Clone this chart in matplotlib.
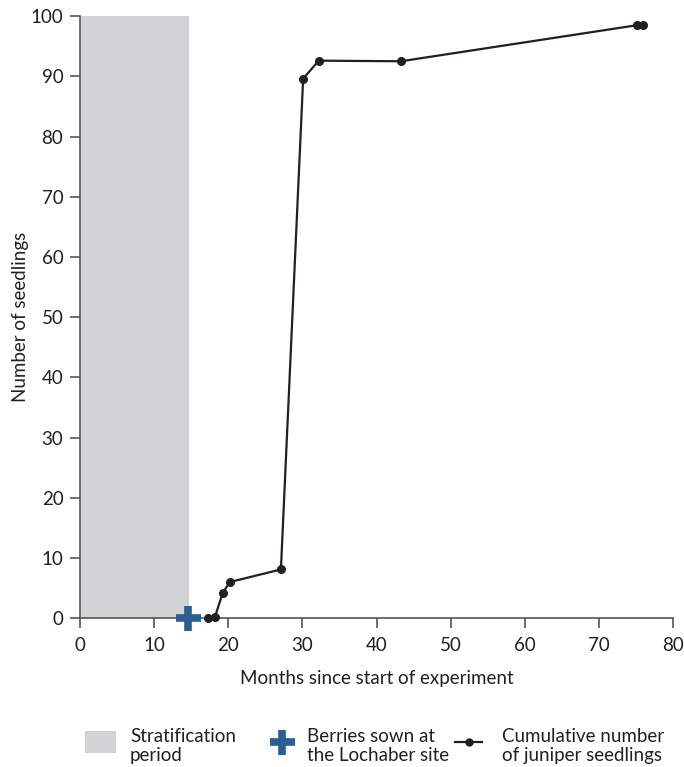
import matplotlib.pyplot as plt
from matplotlib.patches import Rectangle

plt.rcParams['font.family'] = ['Lato', 'DejaVu Sans']

# data
months = [17.2, 18.2, 19.25, 20.2, 27.1, 30.1, 32.2, 43.3, 75.2, 76.0]
seedlings = [0, 0.2, 4.2, 6.0, 8.1, 89.6, 92.6, 92.5, 98.5, 98.5]
strat_start, strat_end = 0, 14.7
sown_month = 14.6

legend_labels = ['Stratification\nperiod', 'Berries sown at\nthe Lochaber site',
                 'Cumulative number\nof juniper seedlings']

grey = '#d1d3d4'
blue = '#2b5f91'
dark = '#231f20'
axis_col = '#555555'
txt = '#231f20'
fs = 13.5

fig = plt.figure(figsize=(6.84, 7.67), dpi=100)
ax = fig.add_axes([0.117, 0.194, 0.867, 0.785])

ax.axvspan(strat_start, strat_end, color=grey, lw=0, zorder=1)
ax.plot(months, seedlings, color=dark, lw=1.6, marker='o', ms=5.5, zorder=3,
        clip_on=False)
ax.plot([sown_month], [0], marker='+', ms=18, mew=5.5, color=blue, zorder=4,
        clip_on=False)

ax.set_xlim(0, 80)
ax.set_ylim(0, 100)
ax.set_xticks(range(0, 81, 10))
ax.set_yticks(range(0, 101, 10))
for s in ['top', 'right']:
    ax.spines[s].set_visible(False)
for s in ['left', 'bottom']:
    ax.spines[s].set_color(axis_col)
    ax.spines[s].set_linewidth(1.2)
ax.tick_params(colors=axis_col, labelcolor=txt, labelsize=fs,
               length=7, width=1.2, direction='out')
ax.tick_params(axis='x', pad=6.5)
ax.tick_params(axis='y', pad=5)
ax.set_xlabel('Months since start of experiment', fontsize=fs, color=txt,
              labelpad=11.5)
ax.set_ylabel('Number of seedlings', fontsize=fs, color=txt, labelpad=1)

# legend drawn by hand in figure pixel coordinates
lax = fig.add_axes([0, 0, 1, 0.12])
lax.set_xlim(0, 684)
lax.set_ylim(767, 767 - 0.12 * 767)
lax.axis('off')
ly = 742
lax.add_patch(Rectangle((85, 731), 31, 22, facecolor=grey, edgecolor='none'))
lax.plot([282], [ly], marker='+', ms=18, mew=5.5, color=blue)
lax.plot([455, 482], [ly, ly], color=dark, lw=1.6)
lax.plot([468.5], [ly], marker='o', ms=5, color=dark)
for x, lab in zip([130, 307, 502], legend_labels):
    lax.text(x, 746, lab, fontsize=fs, color=txt, va='center', ha='left',
             linespacing=1.2)

fig.savefig('out.png', dpi=100)
